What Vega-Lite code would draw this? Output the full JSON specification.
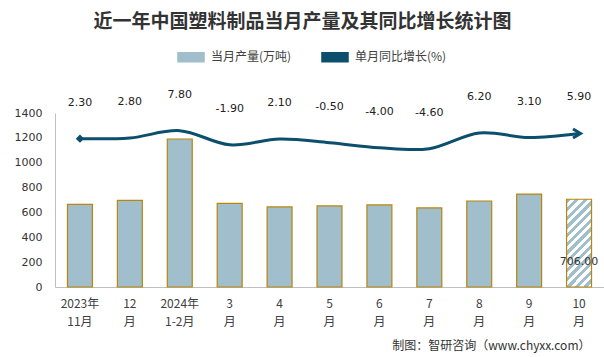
{
  "$schema": "https://vega.github.io/schema/vega-lite/v6.json",
  "width": 549,
  "height": 174,
  "autosize": {"type": "none"},
  "padding": {"left": 55, "top": 113, "right": 0, "bottom": 70},
  "background": "#ffffff",
  "title": {
    "text": "近一年中国塑料制品当月产量及其同比增长统计图",
    "font": "Noto Sans CJK SC",
    "fontSize": 19,
    "fontWeight": "bold",
    "color": "#333333",
    "anchor": "middle",
    "offset": 10,
    "dx": -27
  },
  "config": {
    "view": {"stroke": null},
    "axisY": {"labelOverlap": false},
    "locale": {"number": {"decimal": ".", "thousands": ",", "grouping": [3], "currency": ["", ""], "minus": "-"}}
  },
  "data": {
    "values": [
      {"m": "2023年|11月", "v": 665, "g": 2.3},
      {"m": "12|月", "v": 697, "g": 2.8},
      {"m": "2024年|1-2月", "v": 1191, "g": 7.8},
      {"m": "3|月", "v": 673, "g": -1.9},
      {"m": "4|月", "v": 644, "g": 2.1},
      {"m": "5|月", "v": 652, "g": -0.5},
      {"m": "6|月", "v": 660, "g": -4.0},
      {"m": "7|月", "v": 636, "g": -4.6},
      {"m": "8|月", "v": 692, "g": 6.2},
      {"m": "9|月", "v": 748, "g": 3.1},
      {"m": "10|月", "v": 706, "g": 5.9}
    ]
  },
  "layer": [
    {
      "layer": [
        {
          "transform": [{"filter": "datum.m !== '10|月'"}],
          "mark": {"type": "bar", "stroke": "#B8860B", "strokeWidth": 1.2},
          "encoding": {
            "x": {
              "field": "m", "type": "nominal", "sort": null,
              "scale": {
                "domain": ["2023年|11月", "12|月", "2024年|1-2月", "3|月", "4|月", "5|月", "6|月", "7|月", "8|月", "9|月", "10|月"],
                "paddingInner": 0.5, "paddingOuter": 0.25
              },
              "axis": {
                "title": "制图：智研咨询（www.chyxx.com）",
                "titleFont": "Noto Sans CJK SC",
                "titleFontSize": 12,
                "titleFontWeight": "normal",
                "titleColor": "#333333",
                "titleAnchor": "end",
                "titleAlign": "right",
                "titleX": 535,
                "titleY": 62,
                "titleBaseline": "alphabetic",
                "labelExpr": "split(datum.value,'|')",
                "labelFont": "Noto Sans CJK SC",
                "labelFontSize": 12,
                "labelColor": "#404040",
                "labelLineHeight": 18,
                "labelPadding": 11,
                "labelAngle": 0,
                "ticks": false,
                "domainColor": "#BFBFBF",
                "domainWidth": 1
              }
            },
            "y": {
              "field": "v", "type": "quantitative",
              "scale": {"domain": [0, 1400]},
              "axis": {
                "values": [0, 200, 400, 600, 800, 1000, 1200, 1400],
                "format": "d",
                "labelOverlap": false,
                "title": null, "grid": false, "ticks": false,
                "domainColor": "#BFBFBF",
                "labelFont": "DejaVu Sans", "labelFontSize": 11, "labelColor": "#333333", "labelPadding": 13
              }
            },
            "color": {
              "datum": "当月产量(万吨)",
              "scale": {"domain": ["当月产量(万吨)", "单月同比增长(%)"], "range": ["#A0BECB", "#0B4F6C"]},
              "legend": {
                "orient": "none", "legendX": 121, "legendY": -71, "direction": "horizontal", "title": null,
                "labelFont": "Noto Sans CJK SC", "labelFontSize": 12, "labelColor": "#404040",
                "labelOffset": 5, "columnPadding": 26, "symbolSize": 784, "padding": 0,
                "symbolType": "M-0.93,-0.32L0.93,-0.32L0.93,0.32L-0.93,0.32Z"
              }
            }
          }
        },
        {
          "transform": [{"filter": "datum.m === '10|月'"}],
          "mark": {
            "type": "bar", "stroke": "#B8860B", "strokeWidth": 1.2,
            "fill": {
              "gradient": "linear", "x1": 0, "y1": 0, "x2": 0.34, "y2": 1.19,
              "stops": [
                {"offset": 0, "color": "#A0BECB"}, {"offset": 0.0385, "color": "#A0BECB"}, {"offset": 0.0385, "color": "#ffffff"}, {"offset": 0.0769, "color": "#ffffff"},
                {"offset": 0.0769, "color": "#A0BECB"}, {"offset": 0.1154, "color": "#A0BECB"}, {"offset": 0.1154, "color": "#ffffff"}, {"offset": 0.1538, "color": "#ffffff"},
                {"offset": 0.1538, "color": "#A0BECB"}, {"offset": 0.1923, "color": "#A0BECB"}, {"offset": 0.1923, "color": "#ffffff"}, {"offset": 0.2308, "color": "#ffffff"},
                {"offset": 0.2308, "color": "#A0BECB"}, {"offset": 0.2692, "color": "#A0BECB"}, {"offset": 0.2692, "color": "#ffffff"}, {"offset": 0.3077, "color": "#ffffff"},
                {"offset": 0.3077, "color": "#A0BECB"}, {"offset": 0.3462, "color": "#A0BECB"}, {"offset": 0.3462, "color": "#ffffff"}, {"offset": 0.3846, "color": "#ffffff"},
                {"offset": 0.3846, "color": "#A0BECB"}, {"offset": 0.4231, "color": "#A0BECB"}, {"offset": 0.4231, "color": "#ffffff"}, {"offset": 0.4615, "color": "#ffffff"},
                {"offset": 0.4615, "color": "#A0BECB"}, {"offset": 0.5, "color": "#A0BECB"}, {"offset": 0.5, "color": "#ffffff"}, {"offset": 0.5385, "color": "#ffffff"},
                {"offset": 0.5385, "color": "#A0BECB"}, {"offset": 0.5769, "color": "#A0BECB"}, {"offset": 0.5769, "color": "#ffffff"}, {"offset": 0.6154, "color": "#ffffff"},
                {"offset": 0.6154, "color": "#A0BECB"}, {"offset": 0.6538, "color": "#A0BECB"}, {"offset": 0.6538, "color": "#ffffff"}, {"offset": 0.6923, "color": "#ffffff"},
                {"offset": 0.6923, "color": "#A0BECB"}, {"offset": 0.7308, "color": "#A0BECB"}, {"offset": 0.7308, "color": "#ffffff"}, {"offset": 0.7692, "color": "#ffffff"},
                {"offset": 0.7692, "color": "#A0BECB"}, {"offset": 0.8077, "color": "#A0BECB"}, {"offset": 0.8077, "color": "#ffffff"}, {"offset": 0.8462, "color": "#ffffff"},
                {"offset": 0.8462, "color": "#A0BECB"}, {"offset": 0.8846, "color": "#A0BECB"}, {"offset": 0.8846, "color": "#ffffff"}, {"offset": 0.9231, "color": "#ffffff"},
                {"offset": 0.9231, "color": "#A0BECB"}, {"offset": 0.9615, "color": "#A0BECB"}, {"offset": 0.9615, "color": "#ffffff"}, {"offset": 1, "color": "#ffffff"}
              ]
            }
          },
          "encoding": {
            "x": {"field": "m", "type": "nominal", "sort": null},
            "y": {
              "field": "v", "type": "quantitative",
              "axis": {
                "values": [0, 200, 400, 600, 800, 1000, 1200, 1400],
                "format": "d",
                "labelOverlap": false,
                "title": null, "grid": false, "ticks": false,
                "domainColor": "#BFBFBF",
                "labelFont": "DejaVu Sans", "labelFontSize": 11, "labelColor": "#333333", "labelPadding": 13
              }
            }
          }
        },
        {
          "transform": [{"filter": "datum.m === '10|月'"}],
          "mark": {"type": "text", "dy": 63, "font": "DejaVu Sans", "fontSize": 11, "color": "#333333"},
          "encoding": {
            "x": {"field": "m", "type": "nominal", "sort": null},
            "y": {
              "field": "v", "type": "quantitative",
              "axis": {
                "values": [0, 200, 400, 600, 800, 1000, 1200, 1400],
                "format": "d",
                "labelOverlap": false,
                "title": null, "grid": false, "ticks": false,
                "domainColor": "#BFBFBF",
                "labelFont": "DejaVu Sans", "labelFontSize": 11, "labelColor": "#333333", "labelPadding": 13
              }
            },
            "text": {"field": "v", "type": "quantitative", "format": ".2f"}
          }
        }
      ]
    },
    {
      "layer": [
        {
          "mark": {"type": "line", "interpolate": "catmull-rom", "strokeWidth": 3},
          "encoding": {
            "x": {"field": "m", "type": "nominal", "sort": null},
            "y": {"field": "g", "type": "quantitative", "scale": {"domain": [-100, 20]}, "axis": null},
            "color": {"datum": "单月同比增长(%)"}
          }
        },
        {
          "transform": [{"filter": "datum.m === '2023年|11月'"}],
          "mark": {"type": "point", "shape": "diamond", "filled": true, "color": "#0B4F6C", "size": 70, "opacity": 1},
          "encoding": {
            "x": {"field": "m", "type": "nominal", "sort": null},
            "y": {"field": "g", "type": "quantitative", "axis": null}
          }
        },
        {
          "transform": [{"filter": "datum.m === '10|月'"}],
          "mark": {"type": "point", "shape": "M-1.2,-0.9L0.3,0L-1.2,0.9", "filled": false, "stroke": "#0B4F6C", "strokeWidth": 3, "size": 100, "opacity": 1},
          "encoding": {
            "x": {"field": "m", "type": "nominal", "sort": null},
            "y": {"field": "g", "type": "quantitative", "axis": null}
          }
        },
        {
          "mark": {"type": "text", "dy": -36, "font": "DejaVu Sans", "fontSize": 11, "color": "#222222"},
          "encoding": {
            "x": {"field": "m", "type": "nominal", "sort": null},
            "y": {"field": "g", "type": "quantitative", "axis": null},
            "text": {"field": "g", "type": "quantitative", "format": ".2f"}
          }
        }
      ]
    }
  ],
  "resolve": {"scale": {"y": "independent"}}
}
